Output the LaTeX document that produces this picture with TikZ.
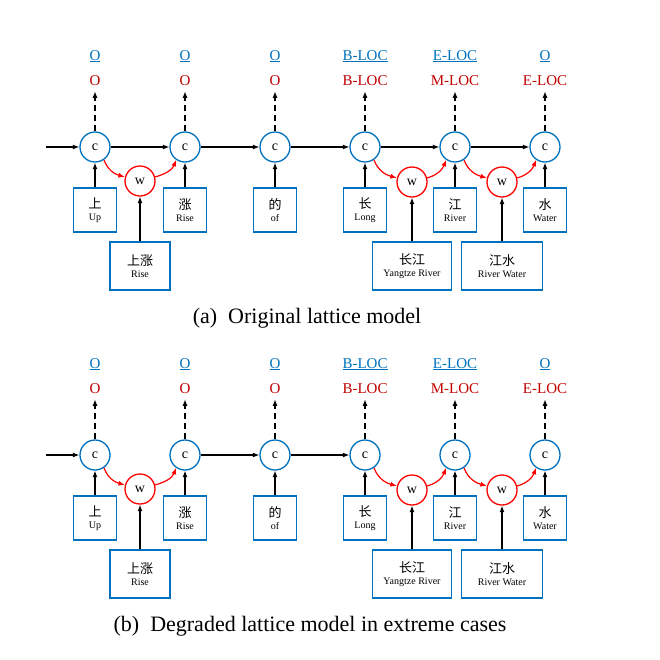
\documentclass[tikz,border=0pt]{standalone}
\usepackage{fontspec}
\setmainfont{Liberation Serif}
\newfontfamily\cjk{Noto Sans CJK SC}
\usetikzlibrary{arrows.meta}
\definecolor{myblue}{RGB}{0,114,189}
\definecolor{myred}{RGB}{255,0,0}
\definecolor{labred}{RGB}{192,0,0}
\tikzset{
  cnode/.style={circle,draw=myblue,line width=1.3pt,minimum size=30pt,inner sep=0pt,font=\fontsize{14}{14}\selectfont},
  wnode/.style={circle,draw=myred,line width=1.3pt,minimum size=30pt,inner sep=0pt,font=\fontsize{14}{14}\selectfont},
  wordbox/.style={draw=myblue,line width=1.5pt,minimum width=43pt,minimum height=44pt,inner sep=0pt,align=center},
  bigbox/.style={wordbox,minimum height=48pt},
  arr/.style={-{Latex[length=6.5pt,width=5pt]},line width=1.2pt},
  redarr/.style={arr,draw=myred},
  dasharr/.style={arr,dash pattern=on 6pt off 4pt},
  tagb/.style={text=myblue,anchor=base,font=\fontsize{15}{15}\selectfont},
  tagr/.style={text=labred,anchor=base,font=\fontsize{15}{15}\selectfont},
  captext/.style={font=\fontsize{22}{22}\selectfont}
}
\newcommand\wtext[2]{\raisebox{-2pt}{\fontsize{13}{15}\cjk #1}\\[-1pt]\raisebox{-3pt}{\fontsize{10}{11}\selectfont #2}}
\newcommand\lattice[1]{%
  \coordinate (#1in) at (46,147);
  \foreach \i/\x in {1/95,2/185,3/275,4/365,5/455,6/545}{
    \node[cnode] (#1c\i) at (\x,147) {c};
  }
  \node[wnode] (#1w1) at (140,181) {w};
  \node[wnode] (#1w2) at (412,182) {w};
  \node[wnode] (#1w3) at (502,182) {w};
  % tags
  \node[tagb] (#1tb1) at (95,60) {\underline{O}};
  \node[tagb] (#1tb2) at (185,60) {\underline{O}};
  \node[tagb] (#1tb3) at (275,60) {\underline{O}};
  \node[tagb] (#1tb4) at (365,60) {\underline{B-LOC}};
  \node[tagb] (#1tb5) at (455,60) {\underline{E-LOC}};
  \node[tagb] (#1tb6) at (545,60) {\underline{O}};
  \node[tagr] (#1tr1) at (95,85) {O};
  \node[tagr] (#1tr2) at (185,85) {O};
  \node[tagr] (#1tr3) at (275,85) {O};
  \node[tagr] (#1tr4) at (365,85) {B-LOC};
  \node[tagr] (#1tr5) at (455,85) {M-LOC};
  \node[tagr] (#1tr6) at (545,85) {E-LOC};
  \foreach \i in {1,...,6}{
    \coordinate (#1tip\i) at ([yshift=40pt]#1c\i.north);
    \draw[dasharr] (#1c\i.north) -- (#1tip\i);
  }
  % word boxes
  \node[wordbox] (#1b1) at (95,210) {\wtext{上}{Up}};
  \node[wordbox] (#1b2) at (185,210) {\wtext{涨}{Rise}};
  \node[wordbox] (#1b3) at (275,210) {\wtext{的}{of}};
  \node[wordbox] (#1b4) at (365,210) {\wtext{长}{Long}};
  \node[wordbox] (#1b5) at (455,210) {\wtext{江}{River}};
  \node[wordbox] (#1b6) at (545,210) {\wtext{水}{Water}};
  \node[bigbox,minimum width=60pt] (#1B1) at (140,266) {\wtext{上涨}{Rise}};
  \node[bigbox,minimum width=79pt] (#1B2) at (412,266) {\wtext{长江}{Yangtze River}};
  \node[bigbox,minimum width=81pt] (#1B3) at (502,266) {\wtext{江水}{River Water}};
  \foreach \i in {1,...,6}{ \draw[arr] (#1b\i.north) -- (#1c\i.south); }
  \foreach \i in {1,2,3}{ \draw[arr] (#1B\i.north) -- (#1w\i.south); }
  % red lattice arcs
  \draw[redarr] (#1c1.-55) to[out=-70,in=165] (#1w1.165);
  \draw[redarr] (#1w1.15) to[out=15,in=-110] (#1c2.-125);
  \draw[redarr] (#1c4.-55) to[out=-70,in=165] (#1w2.165);
  \draw[redarr] (#1w2.15) to[out=15,in=-110] (#1c5.-125);
  \draw[redarr] (#1c5.-55) to[out=-70,in=165] (#1w3.165);
  \draw[redarr] (#1w3.15) to[out=15,in=-110] (#1c6.-125);
  \draw[arr] (#1in) -- (#1c1);
}
\begin{document}
\begin{tikzpicture}[x=1pt,y=-1pt]
  \useasboundingbox (0,0) rectangle (660,659);
  \begin{scope}
    \lattice{a}
    \draw[arr] (ac1) -- (ac2);
    \draw[arr] (ac2) -- (ac3);
    \draw[arr] (ac3) -- (ac4);
    \draw[arr] (ac4) -- (ac5);
    \draw[arr] (ac5) -- (ac6);
  \end{scope}
  \node[captext] (capa) at (307,318) {(a)\hspace{0.5em}Original lattice model};
  \begin{scope}[shift={(0,308)}]
    \lattice{b}
    \draw[arr] (bc2) -- (bc3);
    \draw[arr] (bc3) -- (bc4);
  \end{scope}
  \node[captext] (capb) at (310,626) {(b)\hspace{0.5em}Degraded lattice model in extreme cases};
\end{tikzpicture}
\end{document}
